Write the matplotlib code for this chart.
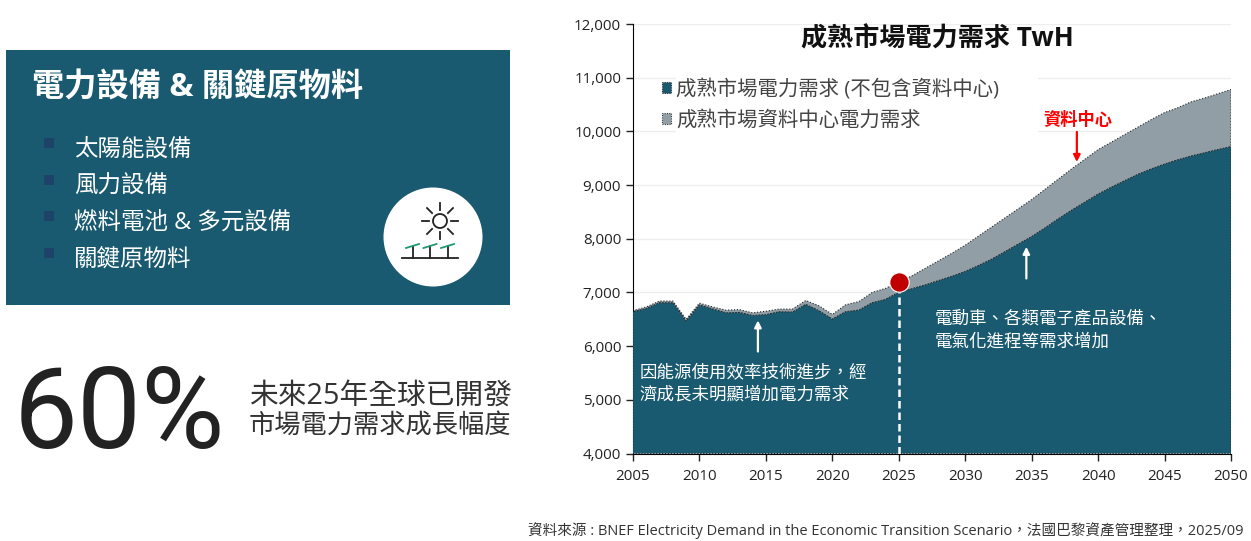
import matplotlib
matplotlib.use("Agg")
import matplotlib.pyplot as plt
from matplotlib.patches import Rectangle, Circle

plt.rcParams['font.family'] = ['Open Sans', 'Noto Sans CJK TC', 'DejaVu Sans']

# chart data
years = list(range(2005, 2051))
base = [6640, 6700, 6807, 6807, 6466, 6764, 6690, 6620, 6627, 6570,
        6584, 6640, 6633, 6776, 6658, 6503, 6640, 6670, 6807, 6870,
        7000, 7070, 7140, 7220, 7300, 7390, 7500, 7620, 7760, 7900,
        8040, 8200, 8370, 8530, 8680, 8830, 8960, 9080, 9200, 9300,
        9390, 9470, 9540, 9600, 9660, 9715]
total = [6660, 6730, 6840, 6840, 6500, 6800, 6730, 6670, 6680, 6620,
         6650, 6690, 6690, 6850, 6750, 6590, 6770, 6830, 7000, 7075,
         7195, 7310, 7450, 7590, 7730, 7880, 8050, 8220, 8390, 8560,
         8730, 8920, 9110, 9300, 9480, 9660, 9800, 9940, 10080, 10220,
         10350, 10440, 10550, 10620, 10700, 10780]
yticks = [4000, 5000, 6000, 7000, 8000, 9000, 10000, 11000, 12000]
xticks = [2005, 2010, 2015, 2020, 2025, 2030, 2035, 2040, 2045, 2050]

bullets = ['太陽能設備', '風力設備', '燃料電池 & 多元設備', '關鍵原物料']
bullet_y = [147, 184, 220, 257]

TEAL = '#195a70'
GREY = '#919ea6'
W, H = 1251, 541

fig = plt.figure(figsize=(W / 100, H / 100), dpi=100)

# left panel drawn in pixel coords
bg = fig.add_axes([0, 0, 1, 1])
bg.set_xlim(0, W)
bg.set_ylim(H, 0)
bg.axis('off')

bg.add_patch(Rectangle((6, 50), 504, 255, color=TEAL, lw=0))
bg.text(32, 88, '電力設備 & 關鍵原物料', color='white', fontsize=23.2, weight='bold',
        va='center', ha='left')
for label, y in zip(bullets, bullet_y):
    bg.add_patch(Rectangle((44, y - 9), 10, 10, color='#1d4468', lw=0))
    bg.text(74, y + 3, label, color='white', fontsize=16.9, va='center', ha='left')

# sun + panels icon
bg.add_patch(Circle((433, 237), 49.5, color='white', lw=0))
bg.add_patch(Circle((440, 221), 7, fc='none', ec='#222222', lw=1.3))
rays = [(0, -1), (0.72, -0.72), (1, 0), (0.72, 0.72), (0, 1), (-0.72, 0.72), (-1, 0), (-0.72, -0.72)]
for dx, dy in rays:
    bg.plot([440 + 11 * dx, 440 + 18 * dx], [221 + 11 * dy, 221 + 18 * dy], color='#222222', lw=1.3)
bg.plot([402, 458], [258, 258], color='#222222', lw=1.3)
for px in [412.5, 430, 447.5]:
    bg.plot([px, px], [246, 258], color='#222222', lw=1.3)
    bg.plot([px - 6.5, px + 6.5], [248, 244], color='#1f9a6e', lw=1.3)

bg.text(14, 417, '60%', color='#222222', fontsize=82, family='Roboto', va='center', ha='left')
bg.text(249, 396, '未來25年全球已開發', color='#333333', fontsize=20.7, va='center', ha='left')
bg.text(249, 426, '市場電力需求成長幅度', color='#333333', fontsize=18.9, va='center', ha='left')
bg.text(1243, 531, '資料來源 : BNEF Electricity Demand in the Economic Transition Scenario，法國巴黎資產管理整理，2025/09',
        color='#333333', fontsize=10.5, va='center', ha='right')

# chart
ax = fig.add_axes([633 / W, 1 - 453.5 / H, (1231 - 633) / W, (453.5 - 24) / H])
ax.patch.set_alpha(0)
ax.set_xlim(2005, 2050)
ax.set_ylim(4000, 12000)
ax.set_xticks(xticks)
ax.set_yticks(yticks)
ax.set_yticklabels(['{:,}'.format(v) for v in yticks])
ax.tick_params(labelsize=10.9, length=5, width=1, colors='#222222')
ax.tick_params(axis='x', pad=6)
ax.grid(axis='y', color='#eeeeee', lw=1)
ax.set_axisbelow(True)
for s in ['top', 'right']:
    ax.spines[s].set_visible(False)

# white block behind the legend hides the grid there
ax.add_patch(Rectangle((2008.2, 9900), 27.3, 1200, fc='white', ec='none', zorder=1.2))

ax.fill_between(years, base, total, facecolor=GREY, edgecolor='#222222', lw=0.8, ls=':',
                label='成熟市場資料中心電力需求', zorder=2)
ax.fill_between(years, 4000, base, facecolor=TEAL, edgecolor='#222222', lw=0.8, ls=':',
                label='成熟市場電力需求 (不包含資料中心)', zorder=3)

h, l = ax.get_legend_handles_labels()
leg = ax.legend(h[::-1], l[::-1], loc='upper left', bbox_to_anchor=(22.5 / 598, (453.5 - 73) / 429.5),
                fontsize=14.7, frameon=False, handlelength=0.45, handleheight=0.45, handletextpad=0.25,
                labelspacing=0.5, borderpad=0.3, borderaxespad=0, labelcolor='#444444')
leg.set_zorder(4)

ax.text(2027.9, 11730, '成熟市場電力需求 TwH', fontsize=18.8, weight='bold', color='#111111',
        ha='center', va='center', zorder=6)

# 2025 marker
ax.plot([2025, 2025], [4000, 7000], color='white', lw=1.8, ls=(0, (3, 1.6)), zorder=5)
ax.plot([2025], [7195], 'o', ms=14, mfc='#c00000', mec='white', mew=0.8, zorder=6)

# notes
ax.text(2005.5, 5510, '因能源使用效率技術進步，經', color='white', fontsize=12.6, va='center', zorder=6)
ax.text(2005.5, 5080, '濟成長未明顯增加電力需求', color='white', fontsize=12.6, va='center', zorder=6)
ax.text(2027.7, 6515, '電動車、各類電子產品設備、', color='white', fontsize=12.6, va='center', zorder=6)
ax.text(2027.7, 6075, '電氣化進程等需求增加', color='white', fontsize=12.6, va='center', zorder=6)
ax.text(2038.5, 10210, '資料中心', color='#ff0000', fontsize=12.4, weight='bold', ha='center', va='center', zorder=6)

ax.annotate('', xy=(2014.4, 6480), xytext=(2014.4, 5900), zorder=6,
            arrowprops=dict(arrowstyle='-|>', color='white', lw=1.6, shrinkA=0, shrinkB=0))
ax.annotate('', xy=(2034.6, 7850), xytext=(2034.6, 7260), zorder=6,
            arrowprops=dict(arrowstyle='-|>', color='white', lw=1.6, shrinkA=0, shrinkB=0))
ax.annotate('', xy=(2038.4, 9430), xytext=(2038.4, 9990), zorder=6,
            arrowprops=dict(arrowstyle='-|>', color='#ff0000', lw=1.6, shrinkA=0, shrinkB=0))

fig.savefig('out.png', dpi=100)
